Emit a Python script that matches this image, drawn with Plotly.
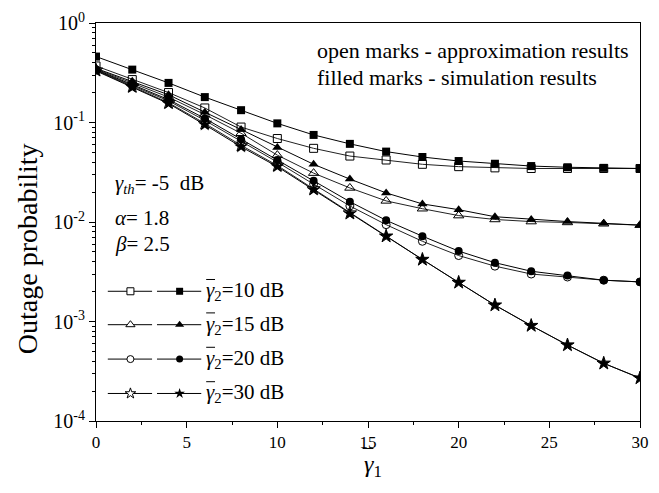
import plotly.graph_objects as go

# ---------------- data ----------------
gamma1 = [0, 2, 4, 6, 8, 10, 12, 14, 16, 18, 20, 22, 24, 26, 28, 30]

# approximation (open marks)
approx_10 = [0.37, 0.27, 0.20, 0.14, 0.090, 0.069, 0.055, 0.046, 0.042, 0.038, 0.036, 0.035, 0.0345, 0.0345, 0.0345, 0.0345]
approx_15 = [0.345, 0.25, 0.18, 0.12, 0.078, 0.047, 0.031, 0.022, 0.0163, 0.0136, 0.0116, 0.0106, 0.0101, 0.0099, 0.0096, 0.0093]
approx_20 = [0.335, 0.235, 0.165, 0.105, 0.065, 0.040, 0.024, 0.0145, 0.0094, 0.0064, 0.0046, 0.0036, 0.0030, 0.0028, 0.0026, 0.0025]
approx_30 = [0.335, 0.23, 0.158, 0.098, 0.059, 0.037, 0.0215, 0.0123, 0.0072, 0.0042, 0.00247, 0.00146, 0.00091, 0.00058, 0.00038, 0.00027]

# simulation (filled marks)
sim_10 = [0.46, 0.34, 0.25, 0.18, 0.133, 0.098, 0.075, 0.061, 0.051, 0.045, 0.041, 0.0385, 0.0365, 0.0355, 0.035, 0.0345]
sim_15 = [0.35, 0.26, 0.19, 0.127, 0.085, 0.056, 0.038, 0.027, 0.0196, 0.0152, 0.0133, 0.0113, 0.0106, 0.0101, 0.0097, 0.0093]
sim_20 = [0.34, 0.24, 0.17, 0.11, 0.068, 0.042, 0.026, 0.016, 0.0104, 0.0072, 0.0051, 0.0039, 0.0032, 0.0029, 0.0026, 0.0025]
sim_30 = [0.33, 0.225, 0.155, 0.095, 0.057, 0.036, 0.021, 0.0121, 0.0072, 0.0042, 0.00247, 0.00146, 0.00091, 0.00058, 0.00038, 0.00027]

series_labels = ["10", "15", "20", "30"]
xtick_vals = [0, 5, 10, 15, 20, 25, 30]
ytick_vals = [1e-4, 1e-3, 1e-2, 1e-1, 1]
ytick_text = ["10<sup>-4</sup>", "10<sup>-3</sup>", "10<sup>-2</sup>", "10<sup>-1</sup>", "10<sup>0</sup>"]

FONT = "Liberation Serif, Times New Roman, serif"

# plot area in pixels (for paper-coordinate helpers)
L, R, T, B = 96, 649, 16, 421
def px(x):
    return (x - L) / (R - L)
def py(y):
    return (B - y) / (B - T)

open_syms = ["square-open", "triangle-up-open", "circle-open", "star-open"]
fill_syms = ["square", "triangle-up", "circle", "star"]
sizes = [8, 9, 8, 10]

approx = [approx_10, approx_15, approx_20, approx_30]
sim = [sim_10, sim_15, sim_20, sim_30]

fig = go.Figure()

for ys, sym, sz in zip(approx, open_syms, sizes):
    fig.add_trace(go.Scatter(
        x=gamma1, y=ys, mode="lines+markers",
        line=dict(color="#222", width=1),
        marker=dict(symbol=sym, size=sz, color="black", line=dict(width=1, color="black")),
        showlegend=False))
for ys, sym, sz in zip(sim, fill_syms, sizes):
    fig.add_trace(go.Scatter(
        x=gamma1, y=ys, mode="lines+markers",
        line=dict(color="black", width=1),
        marker=dict(symbol=sym, size=sz, color="black", line=dict(width=0)),
        showlegend=False))

# ---------- custom legend on overlay axes ----------
leg_rows_px = [289, 323, 358, 393]
leg_sizes = [7, 8, 7, 8]
for row_px, osym, fsym, lab, sz in zip(leg_rows_px, open_syms, fill_syms, series_labels, leg_sizes):
    ry = py(row_px)
    fig.add_trace(go.Scatter(x=[px(108), px(153)], y=[ry, ry], mode="lines",
                             line=dict(color="black", width=1), xaxis="x2", yaxis="y2",
                             showlegend=False, hoverinfo="skip"))
    fig.add_trace(go.Scatter(x=[px(158), px(203)], y=[ry, ry], mode="lines",
                             line=dict(color="black", width=1), xaxis="x2", yaxis="y2",
                             showlegend=False, hoverinfo="skip"))
    fig.add_trace(go.Scatter(x=[px(131)], y=[ry], mode="markers",
                             marker=dict(symbol=osym.replace("-open", ""), size=sz, color="white",
                                         line=dict(width=1, color="black")),
                             xaxis="x2", yaxis="y2", showlegend=False, hoverinfo="skip"))
    fig.add_trace(go.Scatter(x=[px(181)], y=[ry], mode="markers",
                             marker=dict(symbol=fsym, size=sz, color="black"),
                             xaxis="x2", yaxis="y2", showlegend=False, hoverinfo="skip"))
    fig.add_annotation(x=px(206), y=ry, xref="paper", yref="paper", xanchor="left", yanchor="middle",
                       text="<i>γ</i><sub>2</sub>=%s dB" % lab, showarrow=False,
                       font=dict(family=FONT, size=21, color="black"))
    # overbar on gamma
    fig.add_shape(type="line", xref="paper", yref="paper",
                  x0=px(208), x1=px(217), y0=py(row_px - 12), y1=py(row_px - 12),
                  line=dict(color="black", width=1))

# ---------- text annotations ----------
fig.add_annotation(x=px(319), y=py(44), xref="paper", yref="paper", xanchor="left", yanchor="middle",
                   text="open marks - approximation results", showarrow=False,
                   font=dict(family=FONT, size=22, color="black"))
fig.add_annotation(x=px(319), y=py(71), xref="paper", yref="paper", xanchor="left", yanchor="middle",
                   text="filled marks - simulation results", showarrow=False,
                   font=dict(family=FONT, size=22, color="black"))
fig.add_annotation(x=px(113), y=py(180), xref="paper", yref="paper", xanchor="left", yanchor="middle",
                   text="<i>γ</i><sub><i>th</i></sub>= -5  dB", showarrow=False,
                   font=dict(family=FONT, size=21, color="black"))
fig.add_annotation(x=px(113), y=py(214), xref="paper", yref="paper", xanchor="left", yanchor="middle",
                   text="<i>α</i>= 1.8", showarrow=False,
                   font=dict(family=FONT, size=21, color="black"))
fig.add_annotation(x=px(113), y=py(241), xref="paper", yref="paper", xanchor="left", yanchor="middle",
                   text="<i>β</i>= 2.5", showarrow=False,
                   font=dict(family=FONT, size=21, color="black"))

# y-axis title (as rotated annotation, matching the reference's placement)
fig.add_annotation(x=px(26), y=py(246), xref="paper", yref="paper", xanchor="center", yanchor="middle",
                   text="Outage probability", textangle=-90, showarrow=False,
                   font=dict(family=FONT, size=28, color="black"))

# x-axis title: gamma-bar with subscript 1
fig.add_annotation(x=px(366), y=py(467), xref="paper", yref="paper", xanchor="left", yanchor="middle",
                   text="<i>γ</i><sub>1</sub>", showarrow=False,
                   font=dict(family=FONT, size=24, color="black"))
fig.add_shape(type="line", xref="paper", yref="paper",
              x0=px(367), x1=px(378), y0=py(449), y1=py(449),
              line=dict(color="black", width=1))

minor_y = [m * 10.0 ** e for e in range(-4, 0) for m in range(2, 10)]

fig.update_layout(
    width=659, height=493,
    margin=dict(l=L, r=659 - R, t=T, b=493 - B),
    paper_bgcolor="white", plot_bgcolor="white",
    font=dict(family=FONT, size=15, color="black"),
    xaxis=dict(
        range=[0, 30], tickvals=xtick_vals,
        ticks="outside", ticklen=6, tickwidth=1, tickcolor="black",
        minor=dict(tickvals=[2.5, 7.5, 12.5, 17.5, 22.5, 27.5], ticks="outside", ticklen=3, tickcolor="black"),
        showline=True, linecolor="black", linewidth=1, mirror=True,
        showgrid=False, zeroline=False,
        tickfont=dict(family=FONT, size=17),
    ),
    yaxis=dict(
        type="log", range=[-4, 0], tickvals=ytick_vals, ticktext=ytick_text,
        ticks="outside", ticklen=6, tickwidth=1, tickcolor="black",
        minor=dict(tickvals=minor_y, ticks="outside", ticklen=3, tickcolor="black"),
        showline=True, linecolor="black", linewidth=1, mirror=True,
        showgrid=False, zeroline=False,
        tickfont=dict(family=FONT, size=20),
    ),
    xaxis2=dict(overlaying="x", range=[0, 1], visible=False),
    yaxis2=dict(overlaying="y", range=[0, 1], visible=False),
    showlegend=False,
)

fig.write_html("out.html")
